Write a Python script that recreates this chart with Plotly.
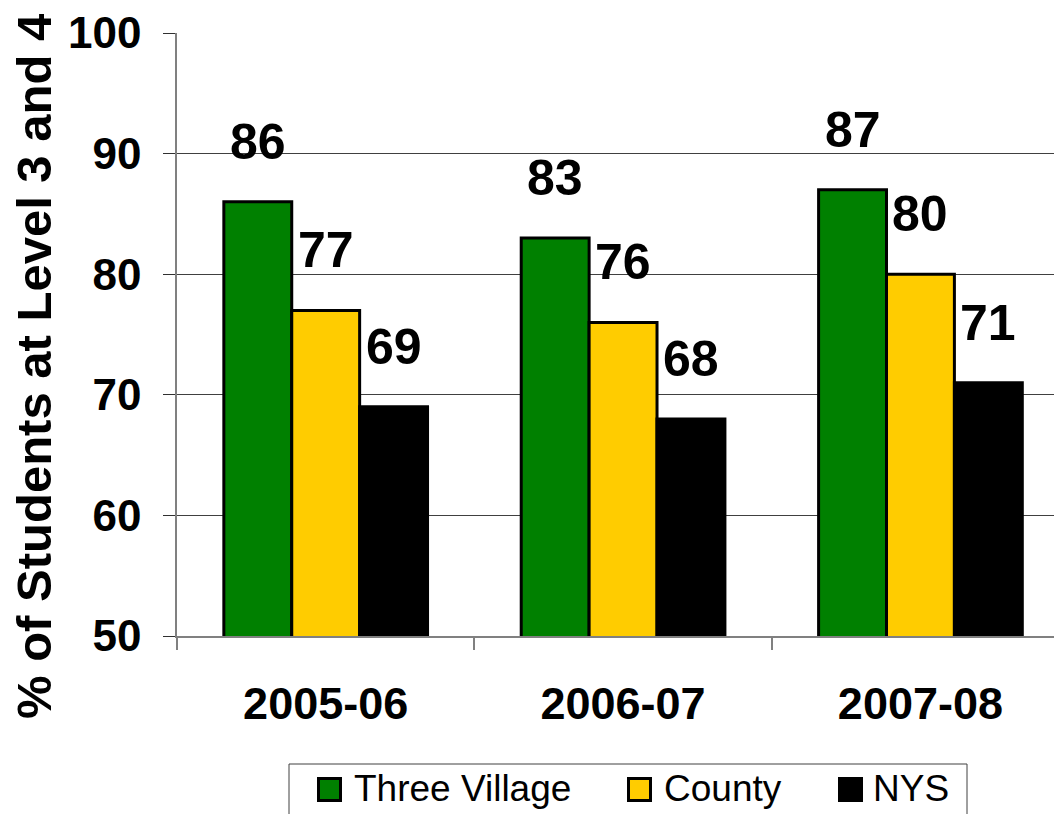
import plotly.graph_objects as go

years = ["2005-06", "2006-07", "2007-08"]
series_names = ["Three Village", "County", "NYS"]
three_village = [86, 83, 87]
county = [77, 76, 80]
nys = [69, 68, 71]
colors = ["#008000", "#FFCC00", "#000000"]
y_title = "% of Students at Level 3 and 4"

# page body has an 8px margin; figure is drawn from (8, 8)
OFF = 8
W, H = 1062 - OFF, 814 - OFF
ML, MR, MT, MB = 177 - OFF, 0, 33 - OFF, 178
PW, PH = W - ML - MR, H - MT - MB
FONT = "Liberation Sans, Arial, sans-serif"

x_end = 2.476
bargap = 0.315
cat_px = PW / (x_end + 0.5)
bar_px = cat_px * (1 - bargap) / 3

fig = go.Figure()
all_vals = [three_village, county, nys]
for name, vals, col in zip(series_names, all_vals, colors):
    fig.add_trace(go.Bar(
        x=years, y=vals, name=name,
        marker=dict(color=col, line=dict(color="#000000", width=3)),
        showlegend=False,
    ))

annotations = []
for i, vals in enumerate(all_vals):
    for yr, v in zip(years, vals):
        annotations.append(dict(
            x=yr, y=v, xref="x", yref="y", text=str(v), showarrow=False,
            xanchor="center", yanchor="middle",
            xshift=(i - 1) * bar_px, yshift=60,
            font=dict(family=FONT, size=50, color="#000000", weight=700),
        ))

# helpers: page pixel -> paper coords
def px_x(p):
    return (p - OFF - ML) / PW

def px_y(p):
    return (H - MB - (p - OFF)) / PH

# y-axis title
annotations.append(dict(
    x=px_x(34), y=px_y(367), xref="paper", yref="paper", text=y_title,
    textangle=-90, showarrow=False, xanchor="center", yanchor="middle",
    font=dict(family=FONT, size=49, color="#000000", weight=700),
))

# manual legend
shapes = [dict(type="rect", xref="paper", yref="paper",
               x0=px_x(289), x1=px_x(967), y0=px_y(818), y1=px_y(764),
               line=dict(color="#404040", width=1), fillcolor="#FFFFFF", layer="above")]
leg_sw = [317, 627, 838]
leg_tx = [352, 662, 871]
for name, col, sx, tx in zip(series_names, colors, leg_sw, leg_tx):
    shapes.append(dict(type="rect", xref="paper", yref="paper",
                       x0=px_x(sx + 1.5), x1=px_x(sx + 23.5), y0=px_y(800.5), y1=px_y(778.5),
                       line=dict(color="#000000", width=3), fillcolor=col, layer="above"))
    annotations.append(dict(
        x=px_x(tx), y=px_y(788), xref="paper", yref="paper", text=name,
        showarrow=False, xanchor="left", yanchor="middle",
        font=dict(family=FONT, size=37, color="#000000"),
    ))

fig.update_layout(
    width=W, height=H,
    margin=dict(l=ML, r=MR, t=MT, b=MB, pad=0),
    paper_bgcolor="#FFFFFF", plot_bgcolor="#FFFFFF",
    barmode="group", bargap=bargap, bargroupgap=0,
    annotations=annotations, shapes=shapes,
    font=dict(family=FONT, color="#000000"),
    xaxis=dict(
        type="category", range=[-0.5, x_end], tickson="boundaries",
        ticks="outside", ticklen=12, tickcolor="#808080", tickwidth=1.5,
        showline=True, linecolor="#808080", linewidth=2,
        showgrid=False, ticklabelstandoff=27,
        tickfont=dict(family=FONT, size=45, color="#000000", weight=700),
    ),
    yaxis=dict(
        range=[50, 100], dtick=10, tick0=50,
        ticks="outside", ticklen=12, tickcolor="#303030", tickwidth=1,
        showline=True, linecolor="#808080", linewidth=1.5,
        showgrid=True, gridcolor="#404040", gridwidth=1,
        zeroline=False, ticklabelstandoff=13,
        tickfont=dict(family=FONT, size=44, color="#000000", weight=700),
    ),
)

fig.write_html("out.html")
